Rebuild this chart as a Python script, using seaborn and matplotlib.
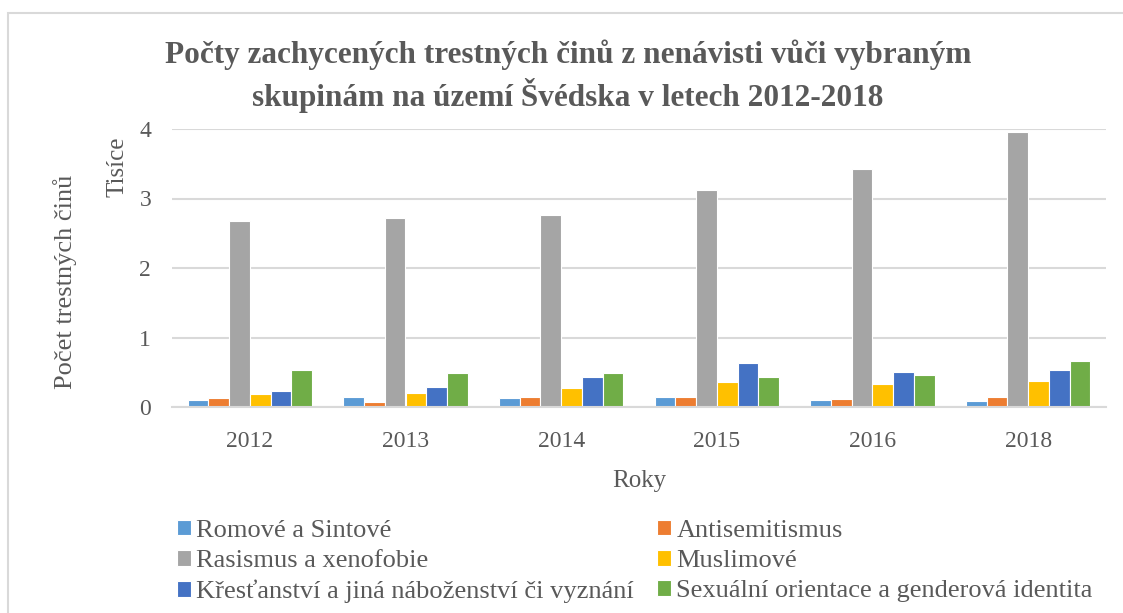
import matplotlib
matplotlib.use("Agg")
import matplotlib.pyplot as plt
from matplotlib.patches import Rectangle
import seaborn as sns
import pandas as pd

# data (thousands of cases)
years = ["2012", "2013", "2014", "2015", "2016", "2018"]
groups = [
    "Romové a Sintové",
    "Antisemitismus",
    "Rasismus a xenofobie",
    "Muslimové",
    "Křesťanství a jiná náboženství či vyznání",
    "Sexuální orientace a genderová identita",
]
romove = [0.105, 0.149, 0.125, 0.149, 0.096, 0.086]
antisemitismus = [0.125, 0.077, 0.149, 0.149, 0.120, 0.149]
rasismus = [2.676, 2.720, 2.767, 3.118, 3.430, 3.957]
muslimove = [0.190, 0.206, 0.278, 0.365, 0.326, 0.374]
krestanstvi = [0.235, 0.283, 0.436, 0.638, 0.504, 0.537]
sexualni = [0.532, 0.484, 0.484, 0.432, 0.456, 0.662]
colors = ["#5B9BD5", "#ED7D31", "#A5A5A5", "#FFC000", "#4472C4", "#70AD47"]

series = [romove, antisemitismus, rasismus, muslimove, krestanstvi, sexualni]
rows = []
for g, vals in zip(groups, series):
    for y, v in zip(years, vals):
        rows.append({"Rok": y, "Skupina": g, "Počet": v})
df = pd.DataFrame(rows)

sns.set_theme(style="white")
serif = ["Liberation Serif", "DejaVu Serif"]
plt.rcParams["font.family"] = serif
text_col = "#595959"

fig = plt.figure(figsize=(11.23, 6.13), dpi=100)
ax = fig.add_axes([172 / 1123, 1 - 407 / 613, (1106 - 172) / 1123, (407 - 129) / 613])

sns.barplot(data=df, x="Rok", y="Počet", hue="Skupina", order=years,
            hue_order=groups, palette=colors, saturation=1, width=0.8,
            edgecolor="white", linewidth=0.8, ax=ax)

ax.set_ylim(0, 4)
ax.set_yticks([0, 1, 2, 3, 4])
ax.yaxis.grid(True, color="#d9d9d9", linewidth=1.5)
ax.set_axisbelow(True)
for s in ["top", "right", "left"]:
    ax.spines[s].set_visible(False)
ax.spines["bottom"].set_color("#d9d9d9")
ax.spines["bottom"].set_linewidth(1.5)
ax.tick_params(axis="x", colors=text_col, labelsize=17, length=0, pad=17)
ax.tick_params(axis="y", colors=text_col, labelsize=17, length=0, pad=15)
ax.set_ylabel("")
ax.set_xlabel("Roky", fontsize=18, color=text_col, labelpad=13)

fig.text(65 / 1123, 1 - 282 / 613, "Počet trestných činů", rotation=90,
         ha="center", va="center", fontsize=19, color=text_col)
fig.text(118 / 1123, 1 - 167 / 613, "Tisíce", rotation=90,
         ha="center", va="center", fontsize=18, color=text_col)

fig.text(568 / 1123, 1 - 76 / 613,
         "Počty zachycených trestných činů z nenávisti vůči vybraným\nskupinám na území Švédska v letech 2012-2018",
         ha="center", va="center", fontsize=22.5, fontweight="bold",
         color=text_col, linespacing=1.3)

handles, labels = ax.get_legend_handles_labels()
ax.get_legend().remove()
order = [0, 2, 4, 1, 3, 5]
leg = fig.legend([handles[i] for i in order], [labels[i] for i in order],
                 loc="upper left", bbox_to_anchor=(166 / 1123, 1 - 509 / 613),
                 ncol=2, frameon=False,
                 prop={"family": serif, "size": 19}, handlelength=0.55,
                 handleheight=0.55, handletextpad=0.2, columnspacing=0.85,
                 labelspacing=0.3, borderaxespad=0)
for t in leg.get_texts():
    t.set_color(text_col)
    t.set_fontfamily(serif)
    t.set_fontsize(19)

fig.patches.append(Rectangle((8 / 1123, -0.1), 1.2, 1 - 13 / 613 + 0.1,
                             transform=fig.transFigure, fill=False,
                             edgecolor="#d9d9d9", linewidth=1.5))

fig.savefig("out.png", dpi=100, facecolor="white")
